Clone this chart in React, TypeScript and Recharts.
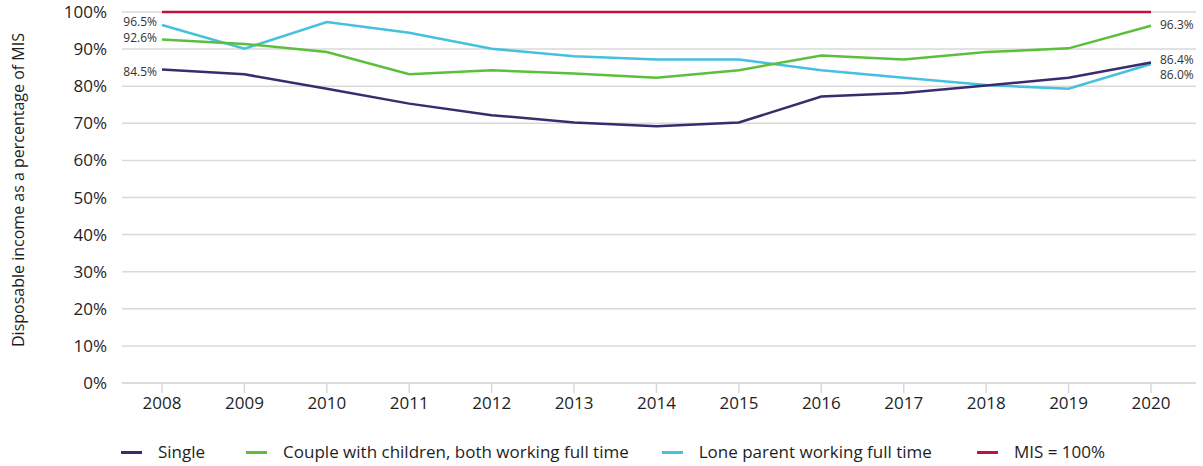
import React from 'react';
import { LineChart, Line, XAxis, YAxis, CartesianGrid, LabelList } from 'recharts';

// Years on the x axis
const years = ['2008', '2009', '2010', '2011', '2012', '2013', '2014', '2015', '2016', '2017', '2018', '2019', '2020'];

// Disposable income as % of MIS, per household type
const single = [84.5, 83.2, 79.3, 75.3, 72.2, 70.2, 69.2, 70.2, 77.2, 78.2, 80.2, 82.3, 86.4];
const couple = [92.6, 91.4, 89.2, 83.2, 84.3, 83.4, 82.3, 84.3, 88.3, 87.2, 89.2, 90.2, 96.3];
const loneParent = [96.5, 90.1, 97.3, 94.4, 90.1, 88.1, 87.2, 87.2, 84.3, 82.3, 80.3, 79.3, 86.0];
const mis = [100, 100, 100, 100, 100, 100, 100, 100, 100, 100, 100, 100, 100];

const yTicks = [0, 10, 20, 30, 40, 50, 60, 70, 80, 90, 100];

const seriesNames = {
  single: 'Single',
  couple: 'Couple with children, both working full time',
  lone: 'Lone parent working full time',
  mis: 'MIS = 100%',
};

const colors = {
  single: '#3b2a6d',
  couple: '#5bbf3c',
  lone: '#45c0df',
  mis: '#c8103f',
};

const data = years.map((year, i) => ({
  year,
  single: single[i],
  couple: couple[i],
  lone: loneParent[i],
  mis: mis[i],
}));

const FONT = '"Open Sans", "DejaVu Sans", sans-serif';

// vertical nudges for the end labels so neighbouring values do not collide
const endLabelShift: Record<string, { first: number; last: number }> = {
  single: { first: 1.5, last: -2.5 },
  couple: { first: -1.5, last: -1 },
  lone: { first: -3, last: 11 },
};

const makeEndLabel = (key: string) => (props: any) => {
  const { x, y, value, index } = props;
  const last = years.length - 1;
  if (index !== 0 && index !== last) return null;
  const isFirst = index === 0;
  const shift = endLabelShift[key];
  return (
    <text
      x={isFirst ? x - 5 : x + 9}
      y={y + (isFirst ? shift.first : shift.last)}
      textAnchor={isFirst ? 'end' : 'start'}
      dominantBaseline="central"
      fontSize={12}
      fontFamily={FONT}
      fill="#333"
    >
      {`${Number(value).toFixed(1)}%`}
    </text>
  );
};

const YTitle = () => (
  <text
    x={24}
    y={190}
    transform="rotate(-90, 24, 190)"
    textAnchor="middle"
    fontSize={16}
    fontFamily={FONT}
    fill="#1e1e1e"
  >
    Disposable income as a percentage of MIS
  </text>
);

// legend order and the gap before each entry
const legendItems: { key: keyof typeof colors; gap: number }[] = [
  { key: 'single', gap: 0 },
  { key: 'couple', gap: 41 },
  { key: 'lone', gap: 33 },
  { key: 'mis', gap: 45 },
];

export default function App() {
  return (
    <div style={{ position: 'absolute', left: 0, top: 0, width: 1203, height: 466, background: '#fff' }}>
      <LineChart width={1203} height={466} data={data} margin={{ top: 12, right: 7, bottom: 53, left: 0 }}>
        <CartesianGrid vertical={false} stroke="#d9d9d9" strokeWidth={1.5} />
        <XAxis
          dataKey="year"
          height={30}
          padding={{ left: 40, right: 45 }}
          axisLine={{ stroke: '#d9d9d9', strokeWidth: 1.5 }}
          tickLine={{ stroke: '#d9d9d9', strokeWidth: 1.5 }}
          tickSize={10}
          tickMargin={4}
          interval={0}
          tick={{ fontSize: 17, fontFamily: FONT, fill: '#1e1e1e' }}
        />
        <YAxis
          width={122}
          domain={[0, 100]}
          ticks={yTicks}
          interval={0}
          axisLine={false}
          tickLine={false}
          tickSize={0}
          tickMargin={15}
          tickFormatter={(v: number) => `${v}%`}
          tick={{ fontSize: 17, fontFamily: FONT, fill: '#1e1e1e' }}
          label={{ content: () => <YTitle /> }}
        />
        <Line dataKey="mis" name={seriesNames.mis} stroke={colors.mis} strokeWidth={2.5} dot={false} isAnimationActive={false} />
        <Line dataKey="lone" name={seriesNames.lone} stroke={colors.lone} strokeWidth={2.5} dot={false} isAnimationActive={false}>
          <LabelList dataKey="lone" content={makeEndLabel('lone')} />
        </Line>
        <Line dataKey="couple" name={seriesNames.couple} stroke={colors.couple} strokeWidth={2.5} dot={false} isAnimationActive={false}>
          <LabelList dataKey="couple" content={makeEndLabel('couple')} />
        </Line>
        <Line dataKey="single" name={seriesNames.single} stroke={colors.single} strokeWidth={2.5} dot={false} isAnimationActive={false}>
          <LabelList dataKey="single" content={makeEndLabel('single')} />
        </Line>
      </LineChart>
      <div
        style={{
          position: 'absolute',
          left: 121,
          top: 441,
          height: 22,
          display: 'flex',
          alignItems: 'center',
          fontFamily: FONT,
          fontSize: 17,
          color: '#1e1e1e',
          whiteSpace: 'nowrap',
        }}
      >
        {legendItems.map((item) => (
          <div key={item.key} style={{ display: 'flex', alignItems: 'center', marginLeft: item.gap }}>
            <span style={{ display: 'inline-block', width: 21, height: 3, background: colors[item.key], marginRight: 16 }} />
            <span style={{ lineHeight: '22px' }}>{seriesNames[item.key]}</span>
          </div>
        ))}
      </div>
    </div>
  );
}
